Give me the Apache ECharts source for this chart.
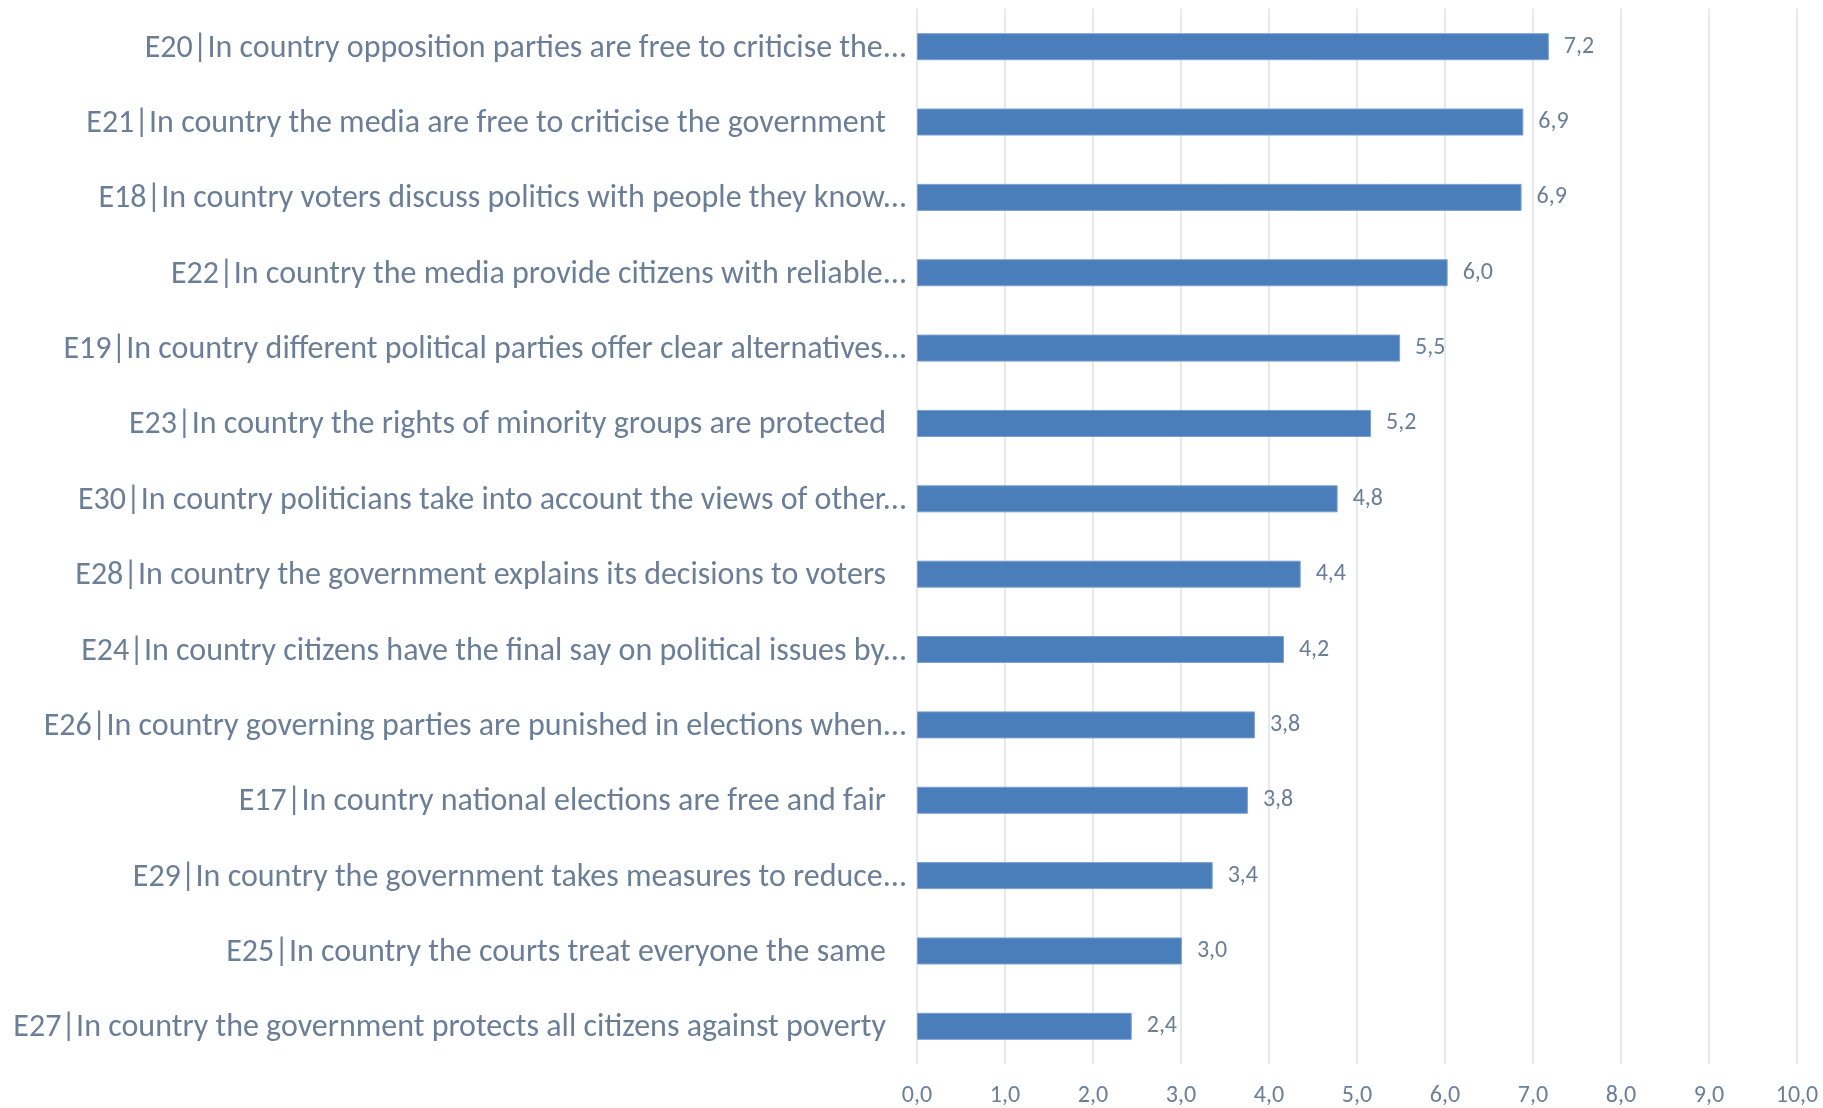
<!DOCTYPE html>
<html>
<head>
<meta charset="utf-8">
<script src="https://cdn.jsdelivr.net/npm/echarts@6/dist/echarts.min.js"></script>
<style>
html,body{margin:0;padding:0;background:#fff;}
#chart{width:1823px;height:1108px;}
</style>
</head>
<body>
<div id="chart"></div>
<script>
const categories = [
  "E20|In country opposition parties are free to criticise the...",
  "E21|In country the media are free to criticise the government",
  "E18|In country voters discuss politics with people they know...",
  "E22|In country the media provide citizens with reliable...",
  "E19|In country different political parties offer clear alternatives...",
  "E23|In country the rights of minority groups are protected",
  "E30|In country politicians take into account the views of other...",
  "E28|In country the government explains its decisions to voters",
  "E24|In country citizens have the final say on political issues by...",
  "E26|In country governing parties are punished in elections when...",
  "E17|In country national elections are free and fair",
  "E29|In country the government takes measures to reduce...",
  "E25|In country the courts treat everyone the same",
  "E27|In country the government protects all citizens against poverty"
];
const values = [7.18, 6.89, 6.87, 6.03, 5.49, 5.16, 4.78, 4.36, 4.17, 3.84, 3.76, 3.36, 3.01, 2.44];
const xTicks = [0, 1, 2, 3, 4, 5, 6, 7, 8, 9, 10];

const FONT = 'Carlito, Lato, sans-serif';
const TEXT = '#6b7e97';
const fmt = v => v.toFixed(1).replace('.', ',');

const chart = echarts.init(document.getElementById('chart'));
chart.setOption({
  animation: false,
  backgroundColor: '#ffffff',
  grid: { left: 917, right: 26, top: 9, bottom: 44 },
  xAxis: {
    type: 'value',
    min: xTicks[0],
    max: xTicks[xTicks.length - 1],
    interval: 1,
    axisLine: { show: false },
    axisTick: { show: false },
    splitLine: { show: true, lineStyle: { color: '#dde2e9', width: 1.5 } },
    axisLabel: {
      color: TEXT, fontFamily: FONT, fontSize: 24, margin: 20,
      formatter: v => fmt(v)
    }
  },
  yAxis: {
    type: 'category',
    inverse: true,
    data: categories,
    axisLine: { show: false },
    axisTick: { show: false },
    axisLabel: {
      color: TEXT, fontFamily: FONT, fontSize: 32, margin: 10,
      formatter: v => v.endsWith('...') ? '{t|' + v + '}' : '{f|' + v + '}',
      rich: {
        t: { color: TEXT, fontFamily: FONT, fontSize: 32, padding: [4, 0, 0, 0] },
        f: { color: TEXT, fontFamily: FONT, fontSize: 32, padding: [4, 21, 0, 0] }
      }
    }
  },
  series: [{
    type: 'bar',
    data: values,
    barWidth: 27,
    itemStyle: { color: '#4a7ebb', borderColor: '#7a9fd0', borderWidth: 1 },
    label: {
      show: true, position: 'right', distance: 15,
      color: TEXT, fontFamily: FONT, fontSize: 24,
      padding: [3, 0, 0, 0],
      formatter: p => fmt(p.value)
    }
  }]
});
</script>
</body>
</html>
